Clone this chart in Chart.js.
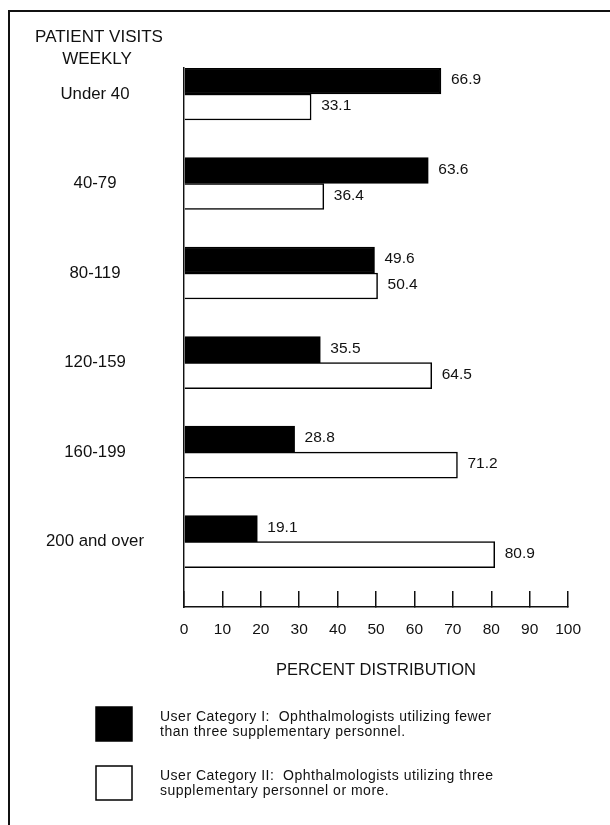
<!DOCTYPE html>
<html>
<head>
<meta charset="utf-8">
<script src="https://cdn.jsdelivr.net/npm/chart.js@4.4.1/dist/chart.umd.min.js"></script>
<style>
html,body{margin:0;padding:0;background:#fff;}
#wrap{width:610px;height:825px;position:relative;}
</style>
</head>
<body>
<div id="wrap"><canvas id="c" width="610" height="825"></canvas></div>
<script>
// ---- data ----
const categories = ['Under 40', '40-79', '80-119', '120-159', '160-199', '200 and over'];
const seriesI = [66.9, 63.6, 49.6, 35.5, 28.8, 19.1];
const seriesII = [33.1, 36.4, 50.4, 64.5, 71.2, 80.9];
const xTicks = [0, 10, 20, 30, 40, 50, 60, 70, 80, 90, 100];
const yTitle = ['PATIENT VISITS', 'WEEKLY'];
const xTitle = 'PERCENT DISTRIBUTION';
const legendI = ['User Category I:  Ophthalmologists utilizing fewer', 'than three supplementary personnel.'];
const legendII = ['User Category II:  Ophthalmologists utilizing three', 'supplementary personnel or more.'];

const FONT = '"Liberation Sans", Arial, Helvetica, sans-serif';
const INK = '#111';

const framePlugin = {
  id: 'frame',
  beforeDraw(chart) {
    const ctx = chart.ctx;
    ctx.save();
    ctx.fillStyle = '#fff';
    ctx.fillRect(0, 0, chart.width, chart.height);
    ctx.strokeStyle = INK;
    ctx.lineWidth = 2;
    ctx.beginPath();
    ctx.moveTo(9, chart.height);
    ctx.lineTo(9, 11);
    ctx.lineTo(chart.width, 11);
    ctx.stroke();
    ctx.restore();
  }
};

const textPlugin = {
  id: 'texts',
  afterDatasetsDraw(chart) {
    const ctx = chart.ctx;
    ctx.save();
    ctx.fillStyle = INK;
    ctx.textBaseline = 'middle';
    ctx.textAlign = 'left';
    ctx.font = '15.5px ' + FONT;
    const vals = [seriesI, seriesII];
    chart.data.datasets.forEach((ds, di) => {
      const meta = chart.getDatasetMeta(di);
      meta.data.forEach((el, i) => {
        ctx.fillText(vals[di][i].toFixed(1), el.x + 10, el.y - 1);
      });
    });
    ctx.restore();
  },
  afterDraw(chart) {
    const ctx = chart.ctx;
    ctx.save();
    ctx.fillStyle = INK;
    ctx.textBaseline = 'middle';
    // y title
    ctx.textAlign = 'center';
    ctx.font = '17px ' + FONT;
    ctx.fillText(yTitle[0], 99, 37);
    ctx.fillText(yTitle[1], 97, 59);
    // legend
    const entries = [legendI, legendII];
    const tops = [707, 766];
    chart.data.datasets.forEach((ds, di) => {
      const top = tops[di];
      ctx.fillStyle = ds.backgroundColor;
      ctx.fillRect(96, top, 36, 34);
      ctx.strokeStyle = ds.borderColor;
      ctx.lineWidth = 1.5;
      ctx.strokeRect(96, top, 36, 34);
      ctx.fillStyle = INK;
      ctx.textAlign = 'left';
      ctx.font = '14px ' + FONT;
      if ('letterSpacing' in ctx) ctx.letterSpacing = '0.5px';
      entries[di].forEach((line, li) => {
        ctx.fillText(line, 160, top + 10 + li * 15);
      });
      if ('letterSpacing' in ctx) ctx.letterSpacing = '0px';
    });
    ctx.restore();
  }
};

const ctx = document.getElementById('c').getContext('2d');
new Chart(ctx, {
  type: 'bar',
  data: {
    datasets: [
      {
        label: legendI.join(' '),
        data: seriesI.map((v, i) => ({ x: v, y: i })),
        backgroundColor: '#000',
        borderColor: '#000',
        borderWidth: 1.5,
        barThickness: 26
      },
      {
        label: legendII.join(' '),
        data: seriesII.map((v, i) => ({ x: v, y: i })),
        backgroundColor: '#fff',
        borderColor: '#000',
        borderWidth: 1.5,
        barThickness: 26
      }
    ]
  },
  options: {
    indexAxis: 'y',
    responsive: false,
    animation: false,
    devicePixelRatio: 1,
    layout: { padding: { left: 0, top: 68, right: 40, bottom: 137 } },
    plugins: {
      legend: { display: false },
      tooltip: { enabled: false }
    },
    scales: {
      y: {
        type: 'linear',
        reverse: true,
        offset: false,
        min: -0.29,
        max: 5.73,
        afterBuildTicks: s => { s.ticks = categories.map((_, i) => ({ value: i })); },
        afterFit: s => { s.width = 184; },
        ticks: {
          callback: v => categories[v] ?? '',
          crossAlign: 'center',
          padding: 40,
          color: INK,
          font: { family: FONT, size: 16.8 },
          autoSkip: false
        },
        grid: { display: false, drawTicks: false, offset: false },
        border: { display: true, color: INK, width: 1.5 }
      },
      x: {
        type: 'linear',
        position: 'bottom',
        min: 0,
        max: 100,
        afterBuildTicks: s => { s.ticks = xTicks.map(v => ({ value: v })); },
        afterFit: s => { s.height = 81; },
        ticks: {
          color: INK,
          font: { family: FONT, size: 15.5 },
          padding: 29,
          maxRotation: 0,
          autoSkip: false
        },
        grid: {
          display: true,
          drawOnChartArea: false,
          drawTicks: true,
          tickLength: -16,
          color: INK,
          lineWidth: 1.5
        },
        border: { display: true, color: INK, width: 1.5 },
        title: {
          display: true,
          text: xTitle,
          color: INK,
          font: { family: FONT, size: 16.5 },
          padding: { top: 0, bottom: 8 }
        }
      }
    }
  },
  plugins: [framePlugin, textPlugin]
});
</script>
</body>
</html>
